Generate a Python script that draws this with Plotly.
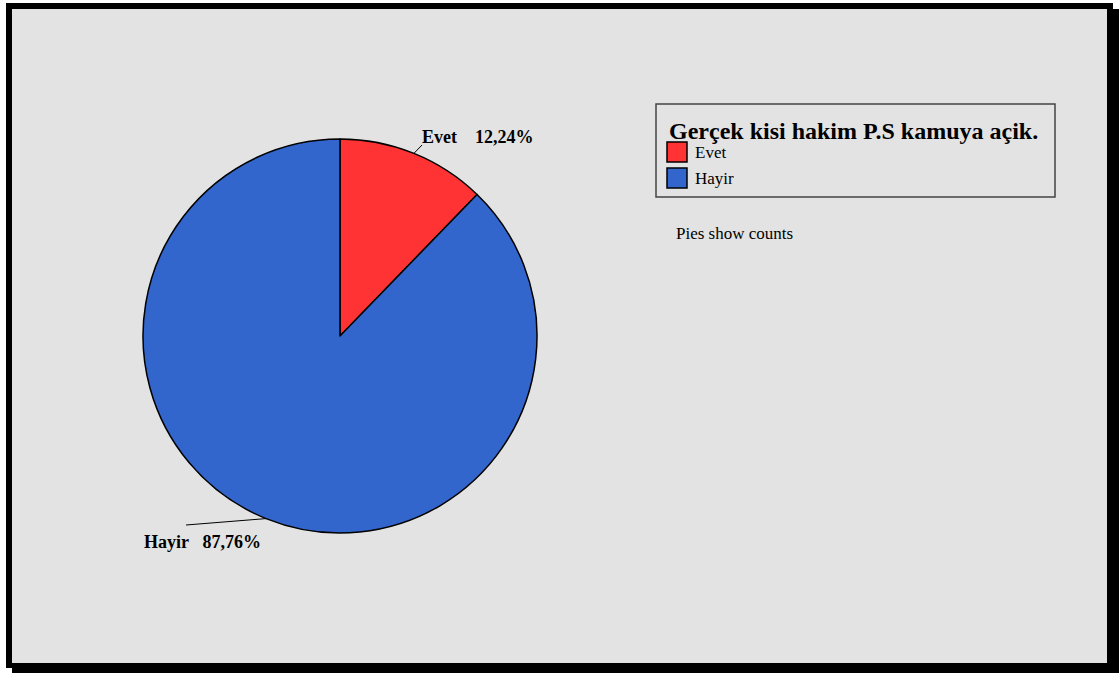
import math
import plotly.graph_objects as go

# Data
categories = ["Evet", "Hayir"]
counts = [12, 86]
colors = ["#FF3333", "#3366CC"]
legend_title = "Gerçek kisi hakim P.S kamuya açik."
note_text = "Pies show counts"

W, H = 1119, 673
FONT = "Liberation Serif"

def px(x):
    return x / W

def py(y):
    return 1 - y / H

# Pie geometry (pixels)
cx, cy, r = 340, 336, 197

total = sum(counts)
pcts = [c / total * 100 for c in counts]

fig = go.Figure()
fig.add_trace(go.Pie(
    labels=categories,
    values=counts,
    sort=False,
    direction="clockwise",
    rotation=0,
    marker=dict(colors=colors, line=dict(color="black", width=1.5)),
    textinfo="none",
    hoverinfo="label+value+percent",
    showlegend=False,
    domain=dict(x=[px(cx - r), px(cx + r)], y=[py(cy + r), py(cy - r)]),
))

shapes = [
    # frame and drop shadow
    dict(type="rect", xref="paper", yref="paper", x0=px(6), x1=px(1113), y0=py(668), y1=py(3),
         fillcolor="black", line=dict(width=0), layer="below"),
    dict(type="rect", xref="paper", yref="paper", x0=px(12), x1=px(1119), y0=py(673), y1=py(9),
         fillcolor="black", line=dict(width=0), layer="below"),
    dict(type="rect", xref="paper", yref="paper", x0=px(12), x1=px(1107), y0=py(663), y1=py(9),
         fillcolor="#E3E3E3", line=dict(width=0), layer="below"),
    # legend box
    dict(type="rect", xref="paper", yref="paper", x0=px(656), x1=px(1055), y0=py(197), y1=py(104),
         fillcolor="rgba(0,0,0,0)", line=dict(color="#444444", width=1.5)),
]

annotations = []

# Slice labels with leader lines from each slice's mid-angle
label_specs = [
    # (line end x, line end y, text x, text y, gap)
    (422, 145, 420, 137, "&nbsp;&nbsp;&nbsp;&nbsp;"),
    (186, 525, 142, 542, "&nbsp;&nbsp;&nbsp;"),
]
start = 0.0
for i, (cat, c) in enumerate(zip(categories, counts)):
    frac = c / total
    mid = (start + frac / 2) * 2 * math.pi
    start += frac
    ex = cx + r * math.sin(mid)
    ey = cy - r * math.cos(mid)
    lx, ly, tx, ty, gap = label_specs[i]
    shapes.append(dict(type="line", xref="paper", yref="paper",
                       x0=px(ex), y0=py(ey), x1=px(lx), y1=py(ly),
                       line=dict(color="black", width=1)))
    pct_txt = f"{pcts[i]:.2f}".replace(".", ",") + "%"
    annotations.append(dict(
        xref="paper", yref="paper", x=px(tx), y=py(ty), xanchor="left", yanchor="middle",
        text=f"<b>{cat}{gap}{pct_txt}</b>", showarrow=False,
        font=dict(family=FONT, size=18, color="black"),
    ))

# Legend title
annotations.append(dict(
    xref="paper", yref="paper", x=px(667), y=py(131), xanchor="left", yanchor="middle",
    text=f"<b>{legend_title}</b>", showarrow=False,
    font=dict(family=FONT, size=24, color="black"),
))

# Legend entries
for i, (cat, col) in enumerate(zip(categories, colors)):
    top = 142 + i * 26
    shapes.append(dict(type="rect", xref="paper", yref="paper",
                       x0=px(667), x1=px(687), y0=py(top + 20), y1=py(top),
                       fillcolor=col, line=dict(color="black", width=1.5)))
    annotations.append(dict(
        xref="paper", yref="paper", x=px(693), y=py(top + 11), xanchor="left", yanchor="middle",
        text=cat, showarrow=False, font=dict(family=FONT, size=17, color="black"),
    ))

annotations.append(dict(
    xref="paper", yref="paper", x=px(674), y=py(233), xanchor="left", yanchor="middle",
    text=note_text, showarrow=False, font=dict(family=FONT, size=17, color="black"),
))

fig.update_layout(
    width=W, height=H,
    margin=dict(l=0, r=0, t=0, b=0),
    paper_bgcolor="white",
    plot_bgcolor="white",
    shapes=shapes,
    annotations=annotations,
    showlegend=False,
)

fig.write_html("out.html", config={"displayModeBar": False})
